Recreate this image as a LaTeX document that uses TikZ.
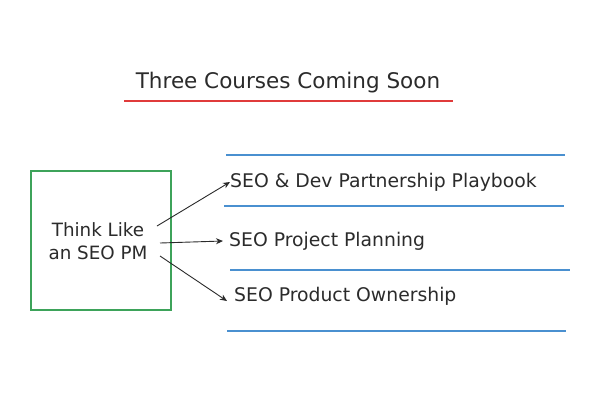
\documentclass[tikz,border=0pt]{standalone}
\usepackage{fontspec}
\setmainfont{DejaVu Sans}
\usetikzlibrary{arrows.meta}
\definecolor{ink}{HTML}{2B2B2B}
\definecolor{exgreen}{HTML}{3DA35A}
\definecolor{exblue}{HTML}{4A90D0}
\definecolor{exred}{HTML}{E03B3B}
\tikzset{
  lbl/.style={anchor=west, inner sep=0pt, text=ink, font=\fontsize{18.8}{22}\selectfont},
  sep/.style={draw=exblue, line width=1.4pt},
  conn/.style={draw=ink, line width=0.9pt, -{Stealth[length=7pt,width=6pt]}},
}
\begin{document}
\begin{tikzpicture}[x=1pt,y=-1pt]
\useasboundingbox (0,0) rectangle (600,400);
\fill[white] (0,0) rectangle (600,400);
% title
\node[text=ink, font=\fontsize{21.5}{25}\selectfont, inner sep=0pt] (title) at (288,83) {Three Courses Coming Soon};
\draw[exred, line width=1.3pt] (124,101) -- (453,101);
% box
\node[draw=exgreen, line width=1.2pt, minimum width=140pt, minimum height=139pt, inner sep=0pt] (box) at (101,240.5) {};
\node[text=ink, font=\fontsize{18.3}{23}\selectfont, align=center, inner sep=0pt] (think) at (98,241) {Think Like\\an SEO PM};
% separators
\draw[sep] (226,155) -- (565,155);
\draw[sep] (224,206) -- (564,206);
\draw[sep] (230,270) -- (570,270);
\draw[sep] (227,331) -- (566,331);
% labels
\node[lbl] (l1) at (230,182) {SEO \& Dev Partnership Playbook};
\node[lbl] (l2) at (229,241) {SEO Project Planning};
\node[lbl] (l3) at (234,296) {SEO Product Ownership};
% arrows
\coordinate (s1) at (157,226);
\coordinate (s2) at (160,243);
\coordinate (s3) at (160,256);
\draw[conn] (s1) -- (l1.west);
\draw[conn] (s2) -- ([xshift=-6pt]l2.west);
\draw[conn] (s3) -- ([xshift=-7pt,yshift=-5pt]l3.west);
\end{tikzpicture}
\end{document}
